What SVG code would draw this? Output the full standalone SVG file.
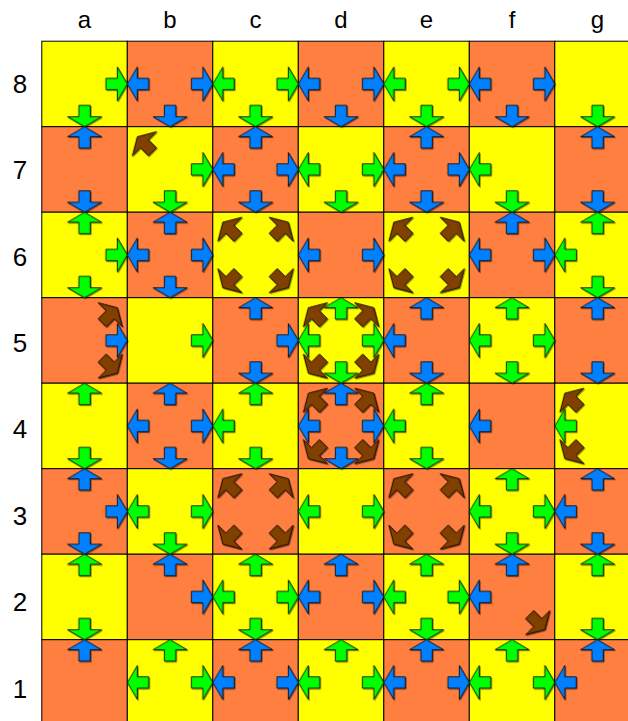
<svg xmlns="http://www.w3.org/2000/svg" xmlns:xlink="http://www.w3.org/1999/xlink" width="628" height="721" viewBox="0 0 628 721">
<style>
.lbl{font-family:"Liberation Sans",Arial,sans-serif;font-size:24px;fill:#000;text-anchor:middle}
.num{font-size:26px}
.y{fill:#FFFF00;stroke:#000;stroke-width:1}
.o{fill:#FF7F40;stroke:#000;stroke-width:1}
.g{fill:#00FF00}
.b{fill:#0080FF}
.r{fill:#7F3F00}
.arrows use{stroke:#000;stroke-width:0.8;stroke-linejoin:miter}
</style>
<defs>
<path id="A" d="M0,0 L-10,-17 L-10,-5.7 L-21.4,-5.7 L-21.4,5.7 L-10,5.7 L-10,17 Z"/>
<filter id="sh" x="-20%" y="-20%" width="140%" height="140%"><feDropShadow dx="1" dy="1" stdDeviation="0.6" flood-color="#000" flood-opacity="0.45"/></filter>
</defs>
<rect width="628" height="721" fill="#fff"/>
<g id="labels">
<text class="lbl" x="84.5" y="28">a</text><text class="lbl" x="170" y="28">b</text><text class="lbl" x="255.5" y="28">c</text><text class="lbl" x="341" y="28">d</text><text class="lbl" x="426.5" y="28">e</text><text class="lbl" x="512" y="28">f</text><text class="lbl" x="597.5" y="28">g</text>
<text class="lbl num" x="20" y="92.6">8</text><text class="lbl num" x="20" y="179.1">7</text><text class="lbl num" x="20" y="265.5">6</text><text class="lbl num" x="20" y="352">5</text><text class="lbl num" x="20" y="438.4">4</text><text class="lbl num" x="20" y="524.9">3</text><text class="lbl num" x="20" y="611.4">2</text><text class="lbl num" x="20" y="697.8">1</text>
</g>
<g id="board" transform="translate(41.8,41.2)">
<rect class="y" x="0" y="0" width="85.5" height="85.5"/><rect class="o" x="85.5" y="0" width="85.5" height="85.5"/><rect class="y" x="171" y="0" width="85.5" height="85.5"/><rect class="o" x="256.5" y="0" width="85.5" height="85.5"/><rect class="y" x="342" y="0" width="85.5" height="85.5"/><rect class="o" x="427.5" y="0" width="85.5" height="85.5"/><rect class="y" x="513" y="0" width="85.5" height="85.5"/>
<rect class="o" x="0" y="85.5" width="85.5" height="85.5"/><rect class="y" x="85.5" y="85.5" width="85.5" height="85.5"/><rect class="o" x="171" y="85.5" width="85.5" height="85.5"/><rect class="y" x="256.5" y="85.5" width="85.5" height="85.5"/><rect class="o" x="342" y="85.5" width="85.5" height="85.5"/><rect class="y" x="427.5" y="85.5" width="85.5" height="85.5"/><rect class="o" x="513" y="85.5" width="85.5" height="85.5"/>
<rect class="y" x="0" y="171" width="85.5" height="85.5"/><rect class="o" x="85.5" y="171" width="85.5" height="85.5"/><rect class="y" x="171" y="171" width="85.5" height="85.5"/><rect class="o" x="256.5" y="171" width="85.5" height="85.5"/><rect class="y" x="342" y="171" width="85.5" height="85.5"/><rect class="o" x="427.5" y="171" width="85.5" height="85.5"/><rect class="y" x="513" y="171" width="85.5" height="85.5"/>
<rect class="o" x="0" y="256.5" width="85.5" height="85.5"/><rect class="y" x="85.5" y="256.5" width="85.5" height="85.5"/><rect class="o" x="171" y="256.5" width="85.5" height="85.5"/><rect class="y" x="256.5" y="256.5" width="85.5" height="85.5"/><rect class="o" x="342" y="256.5" width="85.5" height="85.5"/><rect class="y" x="427.5" y="256.5" width="85.5" height="85.5"/><rect class="o" x="513" y="256.5" width="85.5" height="85.5"/>
<rect class="y" x="0" y="342" width="85.5" height="85.5"/><rect class="o" x="85.5" y="342" width="85.5" height="85.5"/><rect class="y" x="171" y="342" width="85.5" height="85.5"/><rect class="o" x="256.5" y="342" width="85.5" height="85.5"/><rect class="y" x="342" y="342" width="85.5" height="85.5"/><rect class="o" x="427.5" y="342" width="85.5" height="85.5"/><rect class="y" x="513" y="342" width="85.5" height="85.5"/>
<rect class="o" x="0" y="427.5" width="85.5" height="85.5"/><rect class="y" x="85.5" y="427.5" width="85.5" height="85.5"/><rect class="o" x="171" y="427.5" width="85.5" height="85.5"/><rect class="y" x="256.5" y="427.5" width="85.5" height="85.5"/><rect class="o" x="342" y="427.5" width="85.5" height="85.5"/><rect class="y" x="427.5" y="427.5" width="85.5" height="85.5"/><rect class="o" x="513" y="427.5" width="85.5" height="85.5"/>
<rect class="y" x="0" y="513" width="85.5" height="85.5"/><rect class="o" x="85.5" y="513" width="85.5" height="85.5"/><rect class="y" x="171" y="513" width="85.5" height="85.5"/><rect class="o" x="256.5" y="513" width="85.5" height="85.5"/><rect class="y" x="342" y="513" width="85.5" height="85.5"/><rect class="o" x="427.5" y="513" width="85.5" height="85.5"/><rect class="y" x="513" y="513" width="85.5" height="85.5"/>
<rect class="o" x="0" y="598.5" width="85.5" height="85.5"/><rect class="y" x="85.5" y="598.5" width="85.5" height="85.5"/><rect class="o" x="171" y="598.5" width="85.5" height="85.5"/><rect class="y" x="256.5" y="598.5" width="85.5" height="85.5"/><rect class="o" x="342" y="598.5" width="85.5" height="85.5"/><rect class="y" x="427.5" y="598.5" width="85.5" height="85.5"/><rect class="o" x="513" y="598.5" width="85.5" height="85.5"/>
</g>
<g class="arrows" transform="translate(41.8,41.2)" filter="url(#sh)">
<g id="a8"><use href="#A" class="g" transform="translate(85.5,42.75)"/><use href="#A" class="g" transform="translate(42.75,85.5) rotate(90)"/></g>
<g id="b8"><use href="#A" class="b" transform="translate(85.5,42.75) rotate(180)"/><use href="#A" class="b" transform="translate(171,42.75)"/><use href="#A" class="b" transform="translate(128.25,85.5) rotate(90)"/></g>
<g id="c8"><use href="#A" class="g" transform="translate(171,42.75) rotate(180)"/><use href="#A" class="g" transform="translate(256.5,42.75)"/><use href="#A" class="g" transform="translate(213.75,85.5) rotate(90)"/></g>
<g id="d8"><use href="#A" class="b" transform="translate(256.5,42.75) rotate(180)"/><use href="#A" class="b" transform="translate(342,42.75)"/><use href="#A" class="b" transform="translate(299.25,85.5) rotate(90)"/></g>
<g id="e8"><use href="#A" class="g" transform="translate(342,42.75) rotate(180)"/><use href="#A" class="g" transform="translate(427.5,42.75)"/><use href="#A" class="g" transform="translate(384.75,85.5) rotate(90)"/></g>
<g id="f8"><use href="#A" class="b" transform="translate(427.5,42.75) rotate(180)"/><use href="#A" class="b" transform="translate(513,42.75)"/><use href="#A" class="b" transform="translate(470.25,85.5) rotate(90)"/></g>
<g id="g8"><use href="#A" class="g" transform="translate(555.75,85.5) rotate(90)"/></g>

<g id="a7"><use href="#A" class="b" transform="translate(42.75,85.5) rotate(-90)"/><use href="#A" class="b" transform="translate(42.75,171) rotate(90)"/></g>
<g id="b7"><use href="#A" class="r" transform="translate(95.5,95.5) rotate(-135)"/><use href="#A" class="g" transform="translate(171,128.25)"/><use href="#A" class="g" transform="translate(128.25,171) rotate(90)"/></g>
<g id="c7"><use href="#A" class="b" transform="translate(171,128.25) rotate(180)"/><use href="#A" class="b" transform="translate(213.75,85.5) rotate(-90)"/><use href="#A" class="b" transform="translate(256.5,128.25)"/><use href="#A" class="b" transform="translate(213.75,171) rotate(90)"/></g>
<g id="d7"><use href="#A" class="g" transform="translate(256.5,128.25) rotate(180)"/><use href="#A" class="g" transform="translate(342,128.25)"/><use href="#A" class="g" transform="translate(299.25,171) rotate(90)"/></g>
<g id="e7"><use href="#A" class="b" transform="translate(342,128.25) rotate(180)"/><use href="#A" class="b" transform="translate(384.75,85.5) rotate(-90)"/><use href="#A" class="b" transform="translate(427.5,128.25)"/><use href="#A" class="b" transform="translate(384.75,171) rotate(90)"/></g>
<g id="f7"><use href="#A" class="g" transform="translate(427.5,128.25) rotate(180)"/><use href="#A" class="g" transform="translate(470.25,171) rotate(90)"/></g>
<g id="g7"><use href="#A" class="b" transform="translate(555.75,85.5) rotate(-90)"/><use href="#A" class="b" transform="translate(555.75,171) rotate(90)"/></g>

<g id="a6"><use href="#A" class="g" transform="translate(42.75,171) rotate(-90)"/><use href="#A" class="g" transform="translate(85.5,213.75)"/><use href="#A" class="g" transform="translate(42.75,256.5) rotate(90)"/></g>
<g id="b6"><use href="#A" class="b" transform="translate(128.25,171) rotate(-90)"/><use href="#A" class="b" transform="translate(85.5,213.75) rotate(180)"/><use href="#A" class="b" transform="translate(171,213.75)"/><use href="#A" class="b" transform="translate(128.25,256.5) rotate(90)"/></g>
<g id="c6"><use href="#A" class="r" transform="translate(181,181) rotate(-135)"/><use href="#A" class="r" transform="translate(246.5,181) rotate(-45)"/><use href="#A" class="r" transform="translate(181,246.5) rotate(135)"/><use href="#A" class="r" transform="translate(246.5,246.5) rotate(45)"/></g>
<g id="d6"><use href="#A" class="b" transform="translate(256.5,213.75) rotate(180)"/><use href="#A" class="b" transform="translate(342,213.75)"/></g>
<g id="e6"><use href="#A" class="r" transform="translate(352,181) rotate(-135)"/><use href="#A" class="r" transform="translate(417.5,181) rotate(-45)"/><use href="#A" class="r" transform="translate(352,246.5) rotate(135)"/><use href="#A" class="r" transform="translate(417.5,246.5) rotate(45)"/></g>
<g id="f6"><use href="#A" class="b" transform="translate(470.25,171) rotate(-90)"/><use href="#A" class="b" transform="translate(427.5,213.75) rotate(180)"/><use href="#A" class="b" transform="translate(513,213.75)"/></g>
<g id="g6"><use href="#A" class="g" transform="translate(555.75,171) rotate(-90)"/><use href="#A" class="g" transform="translate(513,213.75) rotate(180)"/><use href="#A" class="g" transform="translate(555.75,256.5) rotate(90)"/></g>

<g id="a5"><use href="#A" class="r" transform="translate(75.5,266.5) rotate(-45)"/><use href="#A" class="b" transform="translate(85.5,299.25)"/><use href="#A" class="r" transform="translate(75.5,332) rotate(45)"/></g>
<g id="b5"><use href="#A" class="g" transform="translate(171,299.25)"/></g>
<g id="c5"><use href="#A" class="b" transform="translate(213.75,256.5) rotate(-90)"/><use href="#A" class="b" transform="translate(256.5,299.25)"/><use href="#A" class="b" transform="translate(213.75,342) rotate(90)"/></g>
<g id="d5"><use href="#A" class="r" transform="translate(266.5,266.5) rotate(-135)"/><use href="#A" class="r" transform="translate(332,266.5) rotate(-45)"/><use href="#A" class="r" transform="translate(266.5,332) rotate(135)"/><use href="#A" class="r" transform="translate(332,332) rotate(45)"/><use href="#A" class="g" transform="translate(256.5,299.25) rotate(180)"/><use href="#A" class="g" transform="translate(299.25,256.5) rotate(-90)"/><use href="#A" class="g" transform="translate(342,299.25)"/><use href="#A" class="g" transform="translate(299.25,342) rotate(90)"/></g>
<g id="e5"><use href="#A" class="b" transform="translate(384.75,256.5) rotate(-90)"/><use href="#A" class="b" transform="translate(342,299.25) rotate(180)"/><use href="#A" class="b" transform="translate(384.75,342) rotate(90)"/></g>
<g id="f5"><use href="#A" class="g" transform="translate(427.5,299.25) rotate(180)"/><use href="#A" class="g" transform="translate(470.25,256.5) rotate(-90)"/><use href="#A" class="g" transform="translate(513,299.25)"/><use href="#A" class="g" transform="translate(470.25,342) rotate(90)"/></g>
<g id="g5"><use href="#A" class="b" transform="translate(555.75,256.5) rotate(-90)"/><use href="#A" class="b" transform="translate(555.75,342) rotate(90)"/></g>

<g id="a4"><use href="#A" class="g" transform="translate(42.75,342) rotate(-90)"/><use href="#A" class="g" transform="translate(42.75,427.5) rotate(90)"/></g>
<g id="b4"><use href="#A" class="b" transform="translate(128.25,342) rotate(-90)"/><use href="#A" class="b" transform="translate(85.5,384.75) rotate(180)"/><use href="#A" class="b" transform="translate(171,384.75)"/><use href="#A" class="b" transform="translate(128.25,427.5) rotate(90)"/></g>
<g id="c4"><use href="#A" class="g" transform="translate(171,384.75) rotate(180)"/><use href="#A" class="g" transform="translate(213.75,342) rotate(-90)"/><use href="#A" class="g" transform="translate(213.75,427.5) rotate(90)"/></g>
<g id="d4"><use href="#A" class="r" transform="translate(266.5,352) rotate(-135)"/><use href="#A" class="r" transform="translate(332,352) rotate(-45)"/><use href="#A" class="r" transform="translate(266.5,417.5) rotate(135)"/><use href="#A" class="r" transform="translate(332,417.5) rotate(45)"/><use href="#A" class="b" transform="translate(256.5,384.75) rotate(180)"/><use href="#A" class="b" transform="translate(299.25,342) rotate(-90)"/><use href="#A" class="b" transform="translate(342,384.75)"/><use href="#A" class="b" transform="translate(299.25,427.5) rotate(90)"/></g>
<g id="e4"><use href="#A" class="g" transform="translate(342,384.75) rotate(180)"/><use href="#A" class="g" transform="translate(384.75,342) rotate(-90)"/><use href="#A" class="g" transform="translate(384.75,427.5) rotate(90)"/></g>
<g id="f4"><use href="#A" class="b" transform="translate(427.5,384.75) rotate(180)"/></g>
<g id="g4"><use href="#A" class="r" transform="translate(523,352) rotate(-135)"/><use href="#A" class="g" transform="translate(513,384.75) rotate(180)"/><use href="#A" class="r" transform="translate(523,417.5) rotate(135)"/></g>

<g id="a3"><use href="#A" class="b" transform="translate(42.75,427.5) rotate(-90)"/><use href="#A" class="b" transform="translate(85.5,470.25)"/><use href="#A" class="b" transform="translate(42.75,513) rotate(90)"/></g>
<g id="b3"><use href="#A" class="g" transform="translate(85.5,470.25) rotate(180)"/><use href="#A" class="g" transform="translate(171,470.25)"/><use href="#A" class="g" transform="translate(128.25,513) rotate(90)"/></g>
<g id="c3"><use href="#A" class="r" transform="translate(181,437.5) rotate(-135)"/><use href="#A" class="r" transform="translate(246.5,437.5) rotate(-45)"/><use href="#A" class="r" transform="translate(181,503) rotate(135)"/><use href="#A" class="r" transform="translate(246.5,503) rotate(45)"/></g>
<g id="d3"><use href="#A" class="g" transform="translate(256.5,470.25) rotate(180)"/><use href="#A" class="g" transform="translate(342,470.25)"/></g>
<g id="e3"><use href="#A" class="r" transform="translate(352,437.5) rotate(-135)"/><use href="#A" class="r" transform="translate(417.5,437.5) rotate(-45)"/><use href="#A" class="r" transform="translate(352,503) rotate(135)"/><use href="#A" class="r" transform="translate(417.5,503) rotate(45)"/></g>
<g id="f3"><use href="#A" class="g" transform="translate(470.25,427.5) rotate(-90)"/><use href="#A" class="g" transform="translate(427.5,470.25) rotate(180)"/><use href="#A" class="g" transform="translate(513,470.25)"/><use href="#A" class="g" transform="translate(470.25,513) rotate(90)"/></g>
<g id="g3"><use href="#A" class="b" transform="translate(555.75,427.5) rotate(-90)"/><use href="#A" class="b" transform="translate(513,470.25) rotate(180)"/><use href="#A" class="b" transform="translate(555.75,513) rotate(90)"/></g>

<g id="a2"><use href="#A" class="g" transform="translate(42.75,513) rotate(-90)"/><use href="#A" class="g" transform="translate(42.75,598.5) rotate(90)"/></g>
<g id="b2"><use href="#A" class="b" transform="translate(128.25,513) rotate(-90)"/><use href="#A" class="b" transform="translate(171,555.75)"/></g>
<g id="c2"><use href="#A" class="g" transform="translate(213.75,513) rotate(-90)"/><use href="#A" class="g" transform="translate(171,555.75) rotate(180)"/><use href="#A" class="g" transform="translate(256.5,555.75)"/><use href="#A" class="g" transform="translate(213.75,598.5) rotate(90)"/></g>
<g id="d2"><use href="#A" class="b" transform="translate(299.25,513) rotate(-90)"/><use href="#A" class="b" transform="translate(256.5,555.75) rotate(180)"/><use href="#A" class="b" transform="translate(342,555.75)"/></g>
<g id="e2"><use href="#A" class="g" transform="translate(384.75,513) rotate(-90)"/><use href="#A" class="g" transform="translate(342,555.75) rotate(180)"/><use href="#A" class="g" transform="translate(427.5,555.75)"/><use href="#A" class="g" transform="translate(384.75,598.5) rotate(90)"/></g>
<g id="f2"><use href="#A" class="b" transform="translate(470.25,513) rotate(-90)"/><use href="#A" class="b" transform="translate(427.5,555.75) rotate(180)"/><use href="#A" class="r" transform="translate(503,588.5) rotate(45)"/></g>
<g id="g2"><use href="#A" class="g" transform="translate(555.75,513) rotate(-90)"/><use href="#A" class="g" transform="translate(555.75,598.5) rotate(90)"/></g>

<g id="a1"><use href="#A" class="b" transform="translate(42.75,598.5) rotate(-90)"/></g>
<g id="b1"><use href="#A" class="g" transform="translate(128.25,598.5) rotate(-90)"/><use href="#A" class="g" transform="translate(85.5,641.25) rotate(180)"/><use href="#A" class="g" transform="translate(171,641.25)"/></g>
<g id="c1"><use href="#A" class="b" transform="translate(213.75,598.5) rotate(-90)"/><use href="#A" class="b" transform="translate(171,641.25) rotate(180)"/><use href="#A" class="b" transform="translate(256.5,641.25)"/></g>
<g id="d1"><use href="#A" class="g" transform="translate(299.25,598.5) rotate(-90)"/><use href="#A" class="g" transform="translate(256.5,641.25) rotate(180)"/><use href="#A" class="g" transform="translate(342,641.25)"/></g>
<g id="e1"><use href="#A" class="b" transform="translate(384.75,598.5) rotate(-90)"/><use href="#A" class="b" transform="translate(342,641.25) rotate(180)"/><use href="#A" class="b" transform="translate(427.5,641.25)"/></g>
<g id="f1"><use href="#A" class="g" transform="translate(470.25,598.5) rotate(-90)"/><use href="#A" class="g" transform="translate(427.5,641.25) rotate(180)"/><use href="#A" class="g" transform="translate(513,641.25)"/></g>
<g id="g1"><use href="#A" class="b" transform="translate(555.75,598.5) rotate(-90)"/><use href="#A" class="b" transform="translate(513,641.25) rotate(180)"/></g>
</g>
</svg>
